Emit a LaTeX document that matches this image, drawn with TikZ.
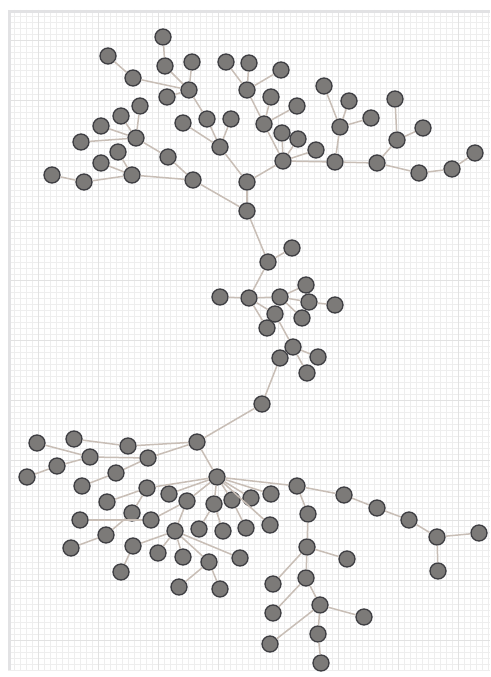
\documentclass[tikz,border=0pt]{standalone}
\usepackage{tikz}
\usetikzlibrary{arrows.meta}
\definecolor{finegrid}{RGB}{238,238,238}
\definecolor{coarsegrid}{RGB}{226,226,226}
\definecolor{framec}{RGB}{226,226,228}
\definecolor{vertfill}{RGB}{124,122,120}
\definecolor{vertline}{RGB}{62,62,66}
\definecolor{edgec}{RGB}{200,190,182}
\tikzset{
    vert/.style={circle, draw=vertline, fill=vertfill, line width=1.3pt,
        minimum size=16pt, inner sep=0pt},
    link/.style={draw=edgec, line width=1.5pt},
    fine/.style={draw=finegrid, line width=0.6pt},
    coarse/.style={draw=coarsegrid, line width=0.8pt},
}

\begin{document}
\begin{tikzpicture}[x=1pt, y=-1pt]
    \useasboundingbox (0,0) rectangle (490,677);
    \fill[white] (0,0) rectangle (490,677);

    % Raster
    \foreach \x in {8,14,...,490} {
        \draw[fine] (\x,10) -- (\x,670);
    }
    \foreach \y in {10,16,...,670} {
        \draw[fine] (8,\y) -- (490,\y);
    }
    \foreach \x in {38,98,...,490} {
        \draw[coarse] (\x,10) -- (\x,670);
    }
    \foreach \y in {40,100,...,670} {
        \draw[coarse] (8,\y) -- (490,\y);
    }
    \draw[framec, line width=3pt] (9.5,670) -- (9.5,11.5) -- (490,11.5);

    % Knoten
    \foreach \n/\x/\y in {
        1/163/37, 2/108/56, 3/165/66, 4/192/62, 5/226/62, 6/249/63, 7/281/70,
        8/133/78, 9/189/90, 10/247/90, 11/167/97, 12/271/97, 13/297/106,
        14/140/106, 15/121/116, 16/101/126, 17/81/142, 18/136/138, 19/183/123,
        20/207/119, 21/231/119, 22/264/124, 23/282/133, 24/298/139, 25/316/150,
        26/220/147, 27/118/152, 28/168/157, 29/101/163, 30/132/175, 31/52/175,
        32/84/182, 33/193/180, 34/247/182, 35/283/161, 36/324/86, 37/349/101,
        38/371/118, 39/340/127, 40/335/162, 41/395/99, 42/423/128, 43/397/140,
        44/377/163, 45/419/173, 46/452/169, 47/475/153, 48/247/211,
        49/292/248, 50/268/262, 51/220/297, 52/249/298, 53/280/297, 54/306/285,
        55/309/302, 56/335/305, 57/302/318, 58/275/314, 59/267/328, 60/293/347,
        61/280/358, 62/318/357, 63/307/373, 64/262/404,
        65/197/442, 66/37/443, 67/74/439, 68/128/446, 69/90/457, 70/148/458,
        71/57/466, 72/27/477, 73/116/473, 74/217/477, 75/82/486, 76/147/488,
        77/169/494, 78/187/501, 79/107/502, 80/214/504, 81/232/500, 82/251/498,
        83/271/494, 84/297/486, 85/132/513, 86/151/520, 87/80/520, 88/175/531,
        89/199/529, 90/223/531, 91/246/528, 92/270/525, 93/308/514, 94/106/535,
        95/71/548, 96/133/546, 97/158/553, 98/183/557, 99/209/562, 100/240/558,
        101/121/572, 102/179/587, 103/220/589, 104/344/495, 105/377/508,
        106/409/520, 107/437/537, 108/479/533, 109/438/571, 110/307/547,
        111/347/559, 112/306/578, 113/273/584, 114/320/605, 115/273/613,
        116/364/617, 117/318/634, 118/270/644, 119/321/663} {
        \node[vert] (v\n) at (\x,\y) {};
    }

    % Kanten
    \foreach \a/\b in {
        1/3, 2/8, 8/9, 3/9, 4/9, 11/9, 5/10, 9/20, 20/26, 21/26, 19/26,
        14/18, 15/18, 16/18, 17/18, 18/28, 28/33, 27/30, 29/30, 31/32, 32/30,
        30/33, 33/48, 26/34, 34/48, 6/10, 7/10, 10/22, 12/22, 13/22, 22/35,
        23/35, 24/35, 25/35, 35/34, 36/39, 37/39, 38/39, 39/40, 35/40, 40/44,
        41/43, 42/43, 43/44, 44/45, 45/46, 46/47,
        48/50, 49/50, 50/52, 51/52, 52/53, 53/54, 53/55, 55/56, 53/57, 52/58,
        52/59, 58/60, 60/61, 60/62, 60/63, 61/64, 64/65,
        65/74, 67/68, 68/65, 66/69, 72/71, 71/69, 69/70, 70/65, 75/73, 73/70,
        74/76, 74/77, 74/78, 74/80, 74/81, 74/82, 74/83, 74/84, 74/92,
        79/76, 85/76, 86/78, 87/86, 94/85, 95/94, 88/78, 96/88, 101/96, 97/88,
        98/88, 99/88, 100/88, 102/99, 103/99, 89/80, 90/80, 91/81,
        84/104, 104/105, 105/106, 106/107, 107/108, 107/109,
        84/93, 93/110, 110/111, 110/113, 110/112, 112/115, 112/114, 114/116,
        114/117, 117/119, 114/118} {
        \draw[link] (v\a) -- (v\b);
    }
\end{tikzpicture}
\end{document}
